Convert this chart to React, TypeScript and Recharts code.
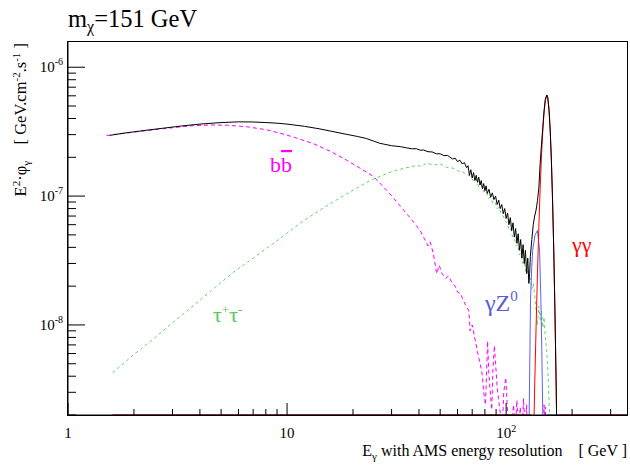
import { LineChart, Line, XAxis, YAxis } from "recharts";

const X_MIN = 1;
const X_MAX = 360;
const Y_MIN = 2e-9;
const Y_MAX = 1.57e-6;

const X_TICKS = [1, 2, 3, 4, 5, 6, 7, 8, 9, 10, 20, 30, 40, 50, 60, 70, 80, 90, 100, 200, 300];
const X_LABELS: Record<number, [string, string]> = { 1: ["1", ""], 10: ["10", ""], 100: ["10", "2"] };
const Y_TICKS = [
  2e-9, 3e-9, 4e-9, 5e-9, 6e-9, 7e-9, 8e-9, 9e-9,
  1e-8, 2e-8, 3e-8, 4e-8, 5e-8, 6e-8, 7e-8, 8e-8, 9e-8,
  1e-7, 2e-7, 3e-7, 4e-7, 5e-7, 6e-7, 7e-7, 8e-7, 9e-7,
  1e-6,
];
const Y_LABEL_EXPONENTS = [-8, -7, -6];

// [E (GeV), E^2 phi]
const TOTAL: [number, number][] = [
  [1.55, 2.96e-7], [1.8, 3.08e-7], [2.2, 3.22e-7], [2.7, 3.36e-7], [3.3, 3.5e-7], [4, 3.62e-7],
  [5, 3.72e-7], [6, 3.77e-7], [7, 3.76e-7], [8, 3.72e-7], [9, 3.68e-7], [10, 3.62e-7],
  [12, 3.48e-7], [14, 3.33e-7], [16, 3.18e-7], [18.8, 3.01e-7], [21, 2.9e-7], [23, 2.8e-7],
  [26.5, 2.57e-7], [28, 2.52e-7], [30, 2.46e-7], [33, 2.42e-7], [35, 2.37e-7], [37, 2.33e-7],
  [39, 2.33e-7], [40.5, 2.27e-7], [42, 2.28e-7], [44, 2.21e-7], [46, 2.2e-7], [48, 2.13e-7],
  [50, 2.13e-7], [52, 2.06e-7], [54, 2.07e-7], [55.5, 2.0e-7], [57, 1.94e-7], [58.5, 1.97e-7],
  [60, 1.85e-7], [61.5, 1.9e-7], [63, 1.78e-7], [64.5, 1.82e-7], [66, 1.66e-7], [67, 1.72e-7],
  [68, 1.45e-7], [69, 1.6e-7], [70, 1.38e-7], [71, 1.52e-7], [72, 1.32e-7], [73, 1.45e-7],
  [74, 1.28e-7], [75, 1.4e-7], [76, 1.22e-7], [77, 1.32e-7], [78, 1.14e-7], [79, 1.25e-7],
  [80, 1.1e-7], [81, 1.2e-7], [82, 1.05e-7], [83.5, 1.13e-7], [85, 9.8e-8], [86.5, 1.06e-7],
  [88, 9.4e-8], [89.5, 1.0e-7], [91, 8.6e-8], [92.5, 9.3e-8], [94, 8.0e-8], [95.5, 8.6e-8],
  [97, 7.3e-8], [98.5, 8.0e-8], [100, 6.7e-8], [101.5, 7.4e-8], [103, 6.0e-8], [104.5, 6.8e-8],
  [106, 5.4e-8], [107.5, 6.2e-8], [109, 4.8e-8], [110.5, 5.6e-8], [112, 4.3e-8], [113.5, 5.1e-8],
  [115, 3.8e-8], [116.5, 4.6e-8], [118, 3.3e-8], [119.5, 4.2e-8], [121, 3.0e-8], [122.5, 3.8e-8],
  [124, 2.5e-8], [125.5, 3.3e-8], [127, 2.1e-8], [128, 2.5e-8], [129, 3.4e-8], [131, 4.6e-8],
  [133, 6.0e-8], [135, 7.0e-8], [137, 7.8e-8], [139, 9.2e-8], [141, 1.15e-7], [143, 1.8e-7],
  [145, 2.5e-7], [147, 3.4e-7], [149, 4.6e-7], [151, 5.65e-7], [153.4, 6.1e-7], [155, 5.8e-7],
  [157, 4.65e-7], [159, 3.2e-7], [161, 1.85e-7], [163, 9e-8], [165, 3.8e-8], [167, 1.3e-8],
  [169, 3.9e-9], [171, 1e-9], [173, 2e-10],
];

const BBBAR: [number, number][] = [
  [1.5, 2.95e-7], [1.8, 3.07e-7], [2.2, 3.2e-7], [2.7, 3.33e-7], [3.3, 3.45e-7], [3.73, 3.52e-7],
  [4.5, 3.56e-7], [5.3, 3.55e-7], [6.56, 3.45e-7], [8, 3.28e-7], [9.3, 3.08e-7], [11, 2.83e-7],
  [13.2, 2.55e-7], [16, 2.2e-7], [18.7, 1.9e-7], [21.5, 1.65e-7], [24.8, 1.42e-7], [29.5, 1.04e-7],
  [33, 8.3e-8], [36.4, 6.8e-8], [40.5, 5.4e-8], [42, 4.8e-8], [44, 4.1e-8], [45, 4.4e-8],
  [46.5, 3.6e-8], [48.2, 2.5e-8], [49.5, 2.9e-8], [51, 2.5e-8], [53, 2.3e-8], [54.5, 2.4e-8],
  [56.8, 2.1e-8], [58.5, 2.0e-8], [60, 1.8e-8], [62, 1.75e-8], [63, 1.63e-8], [65, 1.45e-8],
  [67.6, 1.29e-8], [68.5, 9e-9], [70, 1.0e-8], [72.4, 7.5e-9], [74, 6.2e-9], [76.3, 4.9e-9],
  [77.8, 4.1e-9], [79, 3.0e-9], [80.5, 2.4e-9], [82.3, 7.5e-9], [83.2, 4.5e-9], [84.5, 3.1e-9],
  [86, 2.2e-9], [87, 4.5e-9], [88.4, 6.9e-9], [89.5, 5e-9], [91, 3.3e-9], [92.2, 2.7e-9],
  [94, 2.1e-9], [96, 1.5e-9], [97.5, 3e-9], [99.6, 3.9e-9], [101, 2.5e-9], [102.5, 1.6e-9],
  [104, 1.2e-9], [106, 1.8e-9], [108.2, 2.4e-9], [110, 1.5e-9], [112, 2.6e-9], [114, 1.4e-9],
  [116, 2.3e-9], [118, 1.2e-9], [120, 2.7e-9], [122, 1.6e-9], [124, 2.4e-9], [126, 1e-9],
  [147, 1e-9], [149, 2.4e-9], [150, 1.5e-9], [151, 2.3e-9], [152.5, 1e-9],
];

const TAUTAU: [number, number][] = [
  [1.6, 4.26e-9], [2, 5.9e-9], [2.5, 8.0e-9], [3, 1.04e-8], [3.68, 1.38e-8], [4.5, 1.84e-8],
  [5.67, 2.55e-8], [7, 3.3e-8], [9, 4.5e-8], [11.9, 6.45e-8], [15, 8.3e-8], [19.4, 1.08e-7],
  [23.9, 1.32e-7], [29.5, 1.53e-7], [34, 1.64e-7], [39.3, 1.73e-7], [41, 1.7e-7], [43.2, 1.8e-7],
  [47, 1.74e-7], [50, 1.78e-7], [53.5, 1.67e-7], [57, 1.65e-7], [60, 1.57e-7], [63, 1.55e-7],
  [66.4, 1.47e-7], [69, 1.42e-7], [71, 1.3e-7], [73, 1.36e-7], [75, 1.18e-7], [77, 1.22e-7],
  [79, 1.08e-7], [81, 1.1e-7], [83, 9.6e-8], [85, 9.8e-8], [87, 8.8e-8], [89, 9.0e-8],
  [91, 8.0e-8], [93, 8.2e-8], [95, 7.2e-8], [97, 7.0e-8], [99, 6.4e-8], [101, 6.2e-8],
  [103, 5.5e-8], [105, 5.6e-8], [107, 4.8e-8], [109, 4.7e-8], [111, 4.1e-8], [113, 4.2e-8],
  [115, 3.5e-8], [117, 3.6e-8], [119, 3.0e-8], [121, 3.1e-8], [123, 2.6e-8], [125, 2.7e-8],
  [127, 2.2e-8], [129, 2.3e-8], [131, 1.9e-8], [133, 2.1e-8], [135, 1.7e-8], [137, 1.3e-8],
  [139, 1.0e-8], [141, 1.4e-8], [143, 1.1e-8], [145, 1.3e-8], [147, 9.5e-9], [149, 1.15e-8],
  [151, 8e-9], [153, 6.5e-9], [155, 4.5e-9], [157, 2.5e-9], [159, 1.5e-9], [161, 5e-10],
];

const GAMMA_Z: [number, number][] = [
  [1.6, Y_MIN], [125, Y_MIN], [126, 5e-10], [127.4, 2e-9], [129.2, 1.54e-8], [130.9, 2.8e-8],
  [132.2, 3.8e-8], [135.5, 5.0e-8], [139, 5.4e-8], [142.1, 3.8e-8], [144.1, 1.54e-8],
  [145.5, 6.3e-9], [147, 2e-9], [148.5, 4e-10], [150, Y_MIN], [360, Y_MIN],
];

const GAMMA_GAMMA: [number, number][] = [
  [1.6, Y_MIN], [131, Y_MIN], [133, 1.0e-9], [135, 3.3e-9], [137, 9.6e-9], [139, 2.5e-8],
  [141, 5.7e-8], [143, 1.15e-7], [145, 2.04e-7], [147, 3.2e-7], [149, 4.48e-7], [151, 5.54e-7],
  [153.4, 6.05e-7], [155, 5.74e-7], [157, 4.6e-7], [159, 3.15e-7], [161, 1.82e-7], [163, 8.9e-8],
  [165, 3.7e-8], [167, 1.28e-8], [169, 3.8e-9], [171, 9.6e-10], [173, 2e-10], [175, Y_MIN],
  [360, Y_MIN],
];

const PLOT_LEFT = 68;
const PLOT_TOP = 42;
const PLOT_BOTTOM = 415;
const PLOT_RIGHT = 628;
const FONT = "'Times New Roman', 'Liberation Serif', Tinos, serif";

const toPts = (a: [number, number][]) => a.map(([e, f]) => ({ e, f }));

function XTick(props: any) {
  const { x, payload } = props;
  const lab = X_LABELS[payload.value];
  return (
    <g>
      <line x1={x} x2={x} y1={PLOT_BOTTOM} y2={PLOT_BOTTOM - (lab ? 12 : 6)} stroke="#000" />
      {lab && (
        <text x={x} y={437.5} textAnchor="middle" fontSize={15} style={{ fontFamily: FONT }} fill="#000">
          {lab[0]}
          {lab[1] && (
            <tspan dy={-6} fontSize={10}>
              {lab[1]}
            </tspan>
          )}
        </text>
      )}
    </g>
  );
}

function YTick(props: any) {
  const { y, payload } = props;
  const exp = Math.round(Math.log10(payload.value));
  const major = Math.abs(Math.log10(payload.value) - exp) < 1e-6;
  const labelled = major && Y_LABEL_EXPONENTS.includes(exp);
  return (
    <g>
      <line x1={PLOT_LEFT} x2={PLOT_LEFT + (major ? 17 : 8)} y1={y} y2={y} stroke="#000" />
      {labelled && (
        <text x={63} y={y + 5} textAnchor="end" fontSize={15} style={{ fontFamily: FONT }} fill="#000">
          10
          <tspan dy={-7} fontSize={10}>
            {String(exp)}
          </tspan>
        </text>
      )}
    </g>
  );
}

const txt = { fontFamily: FONT, whiteSpace: "pre" as const };

export default function App() {
  return (
    <div style={{ position: "absolute", left: 0, top: 0, width: 630, height: 465, background: "#fff" }}>
      <LineChart
        width={630}
        height={465}
        margin={{ top: PLOT_TOP, right: 630 - PLOT_RIGHT, bottom: 465 - PLOT_BOTTOM - 1, left: PLOT_LEFT - 1 }}
      >
        <XAxis
          dataKey="e"
          type="number"
          scale="log"
          domain={[X_MIN, X_MAX]}
          ticks={X_TICKS}
          interval={0}
          allowDataOverflow
          height={1}
          tickLine={false}
          axisLine={{ stroke: "#000" }}
          tick={(p: any) => <XTick {...p} />}
        />
        <YAxis
          type="number"
          scale="log"
          domain={[Y_MIN, Y_MAX]}
          ticks={Y_TICKS}
          interval={0}
          allowDataOverflow
          width={1}
          tickLine={false}
          axisLine={{ stroke: "#000" }}
          tick={(p: any) => <YTick {...p} />}
        />
        <Line data={toPts(BBBAR)} dataKey="f" type="linear" stroke="#ff00ff" strokeDasharray="4 3" strokeWidth={1} dot={false} isAnimationActive={false} />
        <Line data={toPts(TAUTAU)} dataKey="f" type="linear" stroke="#5fd85f" strokeDasharray="3 3" strokeWidth={1} dot={false} isAnimationActive={false} />
        <Line data={toPts(GAMMA_Z)} dataKey="f" type="linear" stroke="#6060e8" strokeWidth={1} dot={false} isAnimationActive={false} />
        <Line data={toPts(GAMMA_GAMMA)} dataKey="f" type="linear" stroke="#ff0000" strokeWidth={1} dot={false} isAnimationActive={false} />
        <Line data={toPts(TOTAL)} dataKey="f" type="linear" stroke="#000" strokeWidth={1} dot={false} isAnimationActive={false} />
      </LineChart>
      <div
        style={{
          position: "absolute",
          left: PLOT_LEFT - 1,
          top: PLOT_TOP - 1,
          width: PLOT_RIGHT - PLOT_LEFT + 1,
          height: PLOT_BOTTOM - PLOT_TOP + 2,
          border: "1px solid #000",
          boxSizing: "border-box",
          pointerEvents: "none",
        }}
      />
      <svg width={630} height={465} style={{ position: "absolute", left: 0, top: 0, pointerEvents: "none" }}>
        <text x={68} y={27} fontSize={24.5} fill="#000" style={txt} xmlSpace="preserve">
          m<tspan dy={5} fontSize={16}>χ</tspan>
          <tspan dy={-5}>=151 GeV</tspan>
        </text>
        <text transform="translate(26,43) rotate(-90)" textAnchor="end" fontSize={16.5} fill="#000" style={txt} xmlSpace="preserve">
          E<tspan dy={-6} fontSize={11}>2</tspan>
          <tspan dy={6}>·φ</tspan>
          <tspan dy={4} fontSize={11}>γ</tspan>
          <tspan dy={-4}>{"    [ GeV.cm"}</tspan>
          <tspan dy={-6} fontSize={11}>-2</tspan>
          <tspan dy={6}>.s</tspan>
          <tspan dy={-6} fontSize={11}>-1</tspan>
          <tspan dy={6}>{" ]"}</tspan>
        </text>
        <text x={627} y={456} textAnchor="end" fontSize={16} fill="#000" style={txt} xmlSpace="preserve">
          E<tspan dy={4} fontSize={11}>γ</tspan>
          <tspan dy={-4}>{" with AMS energy resolution    [ GeV ]"}</tspan>
        </text>
        <text x={270} y={172} fontSize={22} fill="#ff00ff" style={txt}>
          b<tspan style={{ textDecoration: "overline" }}>b</tspan>
        </text>
        <text x={213} y={322} fontSize={22} fill="#55cc55" style={txt}>
          τ<tspan dy={-8} fontSize={13}>+</tspan>
          <tspan dy={8}>τ</tspan>
          <tspan dy={-8} fontSize={13}>-</tspan>
        </text>
        <text x={485} y={311} fontSize={24} fill="#5a5ad8" style={txt}>
          γZ<tspan dy={-10} fontSize={15}>0</tspan>
        </text>
        <text x={572} y={252} fontSize={22} fill="#ff0000" style={txt}>
          γγ
        </text>
      </svg>
    </div>
  );
}
